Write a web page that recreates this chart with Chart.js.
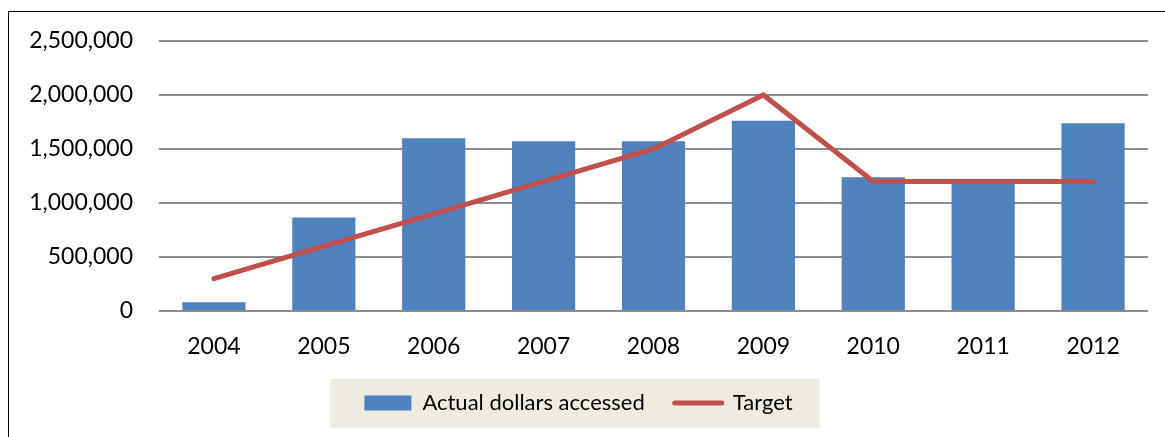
<!DOCTYPE html>
<html>
<head>
<meta charset="utf-8">
<script src="https://cdn.jsdelivr.net/npm/chart.js@4"></script>
<style>
  html, body { margin: 0; padding: 0; background: #fff; }
  #wrap { position: relative; width: 1165px; height: 437px; overflow: hidden; }
  #frame {
    position: absolute; left: 8px; top: 11px; right: -4px; bottom: -4px;
    border-top: 1.5px solid #000; border-left: 1.5px solid #000;
  }
  #chart { position: absolute; left: 0; top: 0; }
</style>
</head>
<body>
<div id="wrap">
  <div id="frame"></div>
  <canvas id="chart" width="1165" height="437"></canvas>
</div>
<script>
// ── Data ────────────────────────────────────────────────────────

const years = ["2004", "2005", "2006", "2007", "2008", "2009", "2010", "2011", "2012"];
const actualDollars = [80000, 865000, 1600000, 1572000, 1572000, 1762000, 1238000, 1185000, 1738000];
const targetDollars = [300000, 600000, 900000, 1200000, 1500000, 2000000, 1200000, 1200000, 1200000];

const FONT = "Lato";

// paints the beige panel behind the legend items
const legendPanel = {
  id: "legendPanel",
  beforeDraw(chart) {
    const boxes = chart.legend && chart.legend.legendHitBoxes;
    if (!boxes || !boxes.length) return;
    const first = boxes[0];
    const last = boxes[boxes.length - 1];
    const cy = first.top + first.height / 2;
    const ctx = chart.ctx;
    ctx.save();
    ctx.fillStyle = "#EEEBE0";
    const x0 = first.left - 34;
    const x1 = last.left + last.width + 27;
    ctx.fillRect(x0, cy - 24, x1 - x0, 49);
    ctx.restore();
  },
};

new Chart(document.getElementById("chart").getContext("2d"), {
  type: "bar",
  data: {
    labels: years,
    datasets: [
      {
        label: "Actual dollars accessed",
        data: actualDollars,
        backgroundColor: "#4F81BD",
        borderWidth: 0,
        categoryPercentage: 1,
        barPercentage: 0.575,
        order: 1,
      },
      {
        type: "line",
        label: "Target",
        data: targetDollars,
        borderColor: "#C0504D",
        backgroundColor: "#C0504D",
        borderWidth: 5,
        borderCapStyle: "round",
        pointRadius: 0,
        tension: 0,
        order: 0,
      },
    ],
  },
  options: {
    responsive: false,
    animation: false,
    layout: { padding: { left: 9, right: 17, top: 41, bottom: 13 } },
    plugins: {
      legend: {
        position: "bottom",
        labels: {
          font: { family: FONT, size: 22 },
          color: "#000",
          usePointStyle: true,
          pointStyleWidth: 47,
          boxHeight: 15,
          padding: 30,
          sort: (a, b) => a.datasetIndex - b.datasetIndex,
          generateLabels(chart) {
            return Chart.defaults.plugins.legend.labels.generateLabels(chart).map((item) => {
              const isLine = item.datasetIndex === 1;
              item.pointStyle = isLine ? "line" : "rect";
              item.lineWidth = isLine ? 5 : 0;
              item.lineCap = "round";
              return item;
            });
          },
        },
      },
      tooltip: { enabled: false },
    },
    scales: {
      x: {
        grid: { display: false },
        border: { display: false },
        ticks: { font: { family: FONT, size: 23 }, color: "#000", padding: 14, maxRotation: 0 },
        afterFit: (axis) => { axis.height = 51; },
      },
      y: {
        min: 0,
        max: 2500000,
        grid: { color: "#8C8C8C", lineWidth: 2, drawTicks: false },
        border: { display: false },
        ticks: {
          stepSize: 500000,
          padding: 26,
          font: { family: FONT, size: 23 },
          color: "#000",
          callback: (val) => Number(val).toLocaleString("en-US"),
        },
        afterFit: (axis) => { axis.width = 150; },
      },
    },
  },
  plugins: [legendPanel],
});
</script>
</body>
</html>
